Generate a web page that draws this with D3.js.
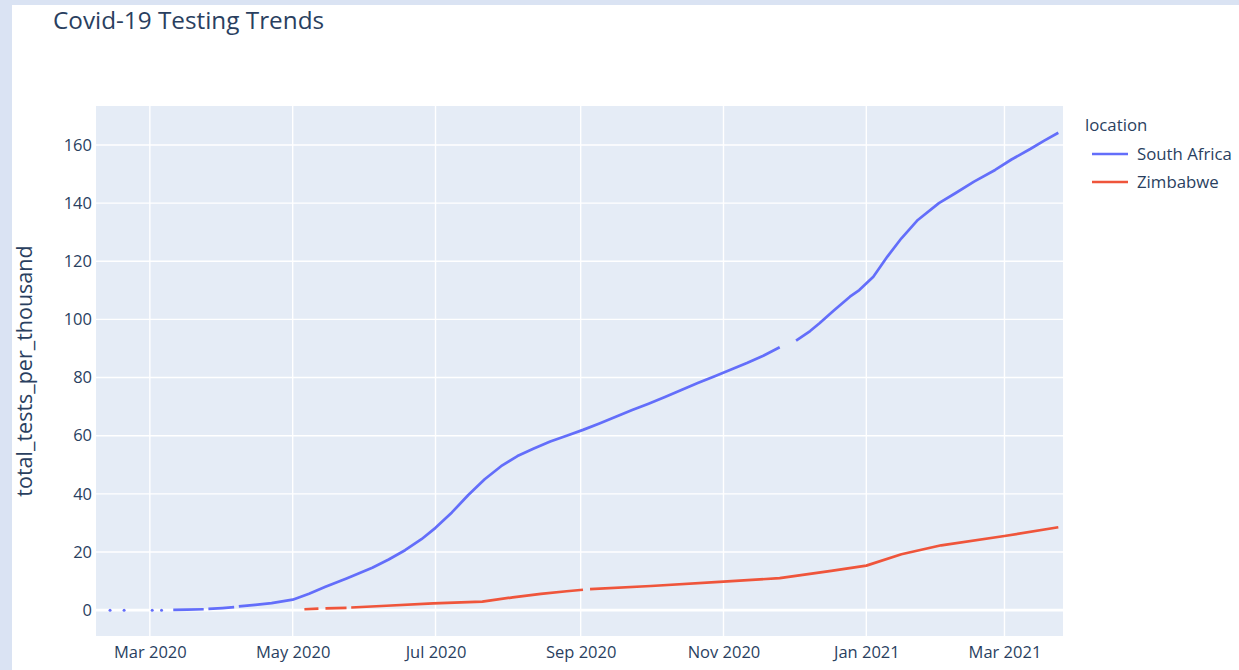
<!DOCTYPE html>
<html>
<head>
<meta charset="utf-8">
<script src="https://cdn.jsdelivr.net/npm/d3@7"></script>
<style>
  html, body { margin: 0; padding: 0; background: #dae3f3; }
  #wrap { position: absolute; left: 12px; top: 5px; width: 1227px; height: 665px; background: #ffffff; }
  svg { position: absolute; left: 0; top: 0; }
  text { font-family: "Open Sans", "DejaVu Sans", sans-serif; fill: #2a3f5f; }
</style>
</head>
<body>
<div id="wrap"></div>
<svg id="chart" width="1239" height="670"></svg>
<script>
// ---- data ----
const seriesNames = ["South Africa", "Zimbabwe"];
const seriesColors = ["#636efa", "#EF553B"];

const saDates = ["2020-02-13","2020-02-16","2020-02-19","2020-02-26","2020-03-02","2020-03-04","2020-03-06","2020-03-08",
  "2020-03-11","2020-03-17","2020-03-24","2020-03-25","2020-03-26","2020-04-01","2020-04-06","2020-04-07","2020-04-08",
  "2020-04-15","2020-04-22","2020-05-01","2020-05-08","2020-05-15","2020-05-24","2020-06-04","2020-06-11","2020-06-18",
  "2020-06-25","2020-07-01","2020-07-08","2020-07-15","2020-07-22","2020-07-29","2020-08-05","2020-08-12","2020-08-19",
  "2020-08-26","2020-09-02","2020-09-09","2020-09-16","2020-09-23","2020-09-30","2020-10-07","2020-10-14","2020-10-21",
  "2020-10-28","2020-11-04","2020-11-11","2020-11-18","2020-11-25","2020-11-28","2020-12-02","2020-12-08","2020-12-12",
  "2020-12-18","2020-12-25","2020-12-29","2021-01-04","2021-01-10","2021-01-16","2021-01-23","2021-02-01","2021-02-08",
  "2021-02-16","2021-02-25","2021-03-04","2021-03-12","2021-03-18","2021-03-24"];
const saValues = [0, null, 0, null, 0, null, 0, null,
  0.1, 0.2, 0.3, null, 0.4, 0.7, 1.0, null, 1.3,
  1.8, 2.4, 3.6, 5.6, 8.0, 10.9, 14.6, 17.4, 20.6,
  24.4, 28.3, 33.6, 39.6, 45.0, 49.5, 53.0, 55.6, 58.0,
  60.0, 62.0, 64.2, 66.5, 68.8, 71.0, 73.3, 75.7, 78.1,
  80.4, 82.7, 85.0, 87.5, 90.4, null, 92.7, 96.0, 98.7,
  103.0, 107.8, 110.1, 114.7, 121.6, 127.9, 134.2, 140.0, 143.4,
  147.4, 151.4, 155.0, 158.6, 161.5, 164.2];

const zwDates = ["2020-05-06","2020-05-12","2020-05-13","2020-05-15","2020-05-24","2020-05-25","2020-05-26","2020-06-10",
  "2020-06-30","2020-07-21","2020-08-03","2020-08-15","2020-08-26","2020-09-02","2020-09-03","2020-09-05","2020-10-01",
  "2020-11-01","2020-11-25","2020-12-17","2021-01-01","2021-01-16","2021-02-02","2021-03-01","2021-03-24"];
const zwValues = [0.3, 0.5, null, 0.6, 0.8, null, 0.9, 1.5,
  2.3, 2.9, 4.4, 5.6, 6.5, 7.0, null, 7.2, 8.3,
  9.8, 11.0, 13.5, 15.3, 19.2, 22.3, 25.5, 28.5];

const yTicks = [0, 20, 40, 60, 80, 100, 120, 140, 160];

// ---- layout ----
const svg = d3.select("#chart");
const plot = { left: 96, right: 1063, top: 106, bottom: 636 };
const parse = d3.timeParse("%Y-%m-%d");

const x = d3.scaleTime()
  .domain([parse("2020-02-07"), parse("2021-03-26")])
  .range([plot.left, plot.right]);
const y = d3.scaleLinear()
  .domain([-8.9, 173.4])
  .range([plot.bottom, plot.top]);

svg.append("rect")
  .attr("x", plot.left).attr("y", plot.top)
  .attr("width", plot.right - plot.left).attr("height", plot.bottom - plot.top)
  .attr("fill", "#E5ECF6");

// grid
const xTickVals = d3.timeMonth.every(2).range(parse("2020-02-07"), parse("2021-03-26"));
svg.append("g").selectAll("line").data(xTickVals).join("line")
  .attr("x1", d => x(d)).attr("x2", d => x(d))
  .attr("y1", plot.top).attr("y2", plot.bottom)
  .attr("stroke", "#fff").attr("stroke-width", 1.4);
svg.append("g").selectAll("line").data(yTicks).join("line")
  .attr("x1", plot.left).attr("x2", plot.right)
  .attr("y1", d => y(d)).attr("y2", d => y(d))
  .attr("stroke", "#fff").attr("stroke-width", d => d === 0 ? 2.8 : 1.4);

// axes via d3 axis generators
const xAxis = d3.axisBottom(x).tickValues(xTickVals).tickFormat(d3.timeFormat("%b %Y")).tickSize(0).tickPadding(10);
const gx = svg.append("g").attr("transform", `translate(0,${plot.bottom})`).call(xAxis);
gx.select(".domain").remove();
gx.selectAll("text").attr("font-size", 16.5).attr("fill", "#2a3f5f")
  .style("font-family", '"Open Sans", sans-serif');

const yAxis = d3.axisLeft(y).tickValues(yTicks).tickSize(0).tickPadding(4);
const gy = svg.append("g").attr("transform", `translate(${plot.left - 0},0)`).call(yAxis);
gy.select(".domain").remove();
gy.selectAll("text").attr("font-size", 16.5).attr("fill", "#2a3f5f")
  .style("font-family", '"Open Sans", sans-serif');

// series
const allSeries = [
  saDates.map((d, i) => ({ date: parse(d), v: saValues[i] })),
  zwDates.map((d, i) => ({ date: parse(d), v: zwValues[i] }))
];
const line = d3.line().defined(d => d.v !== null).x(d => x(d.date)).y(d => y(d.v));

const clip = svg.append("clipPath").attr("id", "clip").append("rect")
  .attr("x", plot.left).attr("y", plot.top)
  .attr("width", plot.right - plot.left).attr("height", plot.bottom - plot.top);

const gLines = svg.append("g").attr("clip-path", "url(#clip)");
allSeries.forEach((s, k) => {
  gLines.append("path").datum(s)
    .attr("d", line)
    .attr("fill", "none")
    .attr("stroke", seriesColors[k])
    .attr("stroke-width", 2.7)
    .attr("stroke-linejoin", "round");
  // isolated points (no defined neighbours) shown as dots
  const lone = s.filter((d, i) => d.v !== null &&
    (i === 0 || s[i - 1].v === null) && (i === s.length - 1 || s[i + 1].v === null));
  gLines.selectAll(null).data(lone).join("circle")
    .attr("cx", d => x(d.date)).attr("cy", d => y(d.v))
    .attr("r", 1.5).attr("fill", seriesColors[k]);
});

// title
svg.append("text").attr("x", 53).attr("y", 29)
  .attr("font-size", 24.3).text("Covid-19 Testing Trends");

// y axis title
svg.append("text")
  .attr("transform", `translate(32,${(plot.top + plot.bottom) / 2}) rotate(-90)`)
  .attr("text-anchor", "middle")
  .attr("font-size", 21.5).text("total_tests_per_thousand");

// legend
const lg = svg.append("g");
lg.append("text").attr("x", 1085).attr("y", 131).attr("font-size", 16.8).text("location");
seriesNames.forEach((n, i) => {
  const yy = 154 + i * 28;
  lg.append("line").attr("x1", 1092).attr("x2", 1128).attr("y1", yy).attr("y2", yy)
    .attr("stroke", seriesColors[i]).attr("stroke-width", 2.7);
  lg.append("text").attr("x", 1137).attr("y", yy + 6).attr("font-size", 16.8).text(n);
});
</script>
</body>
</html>
